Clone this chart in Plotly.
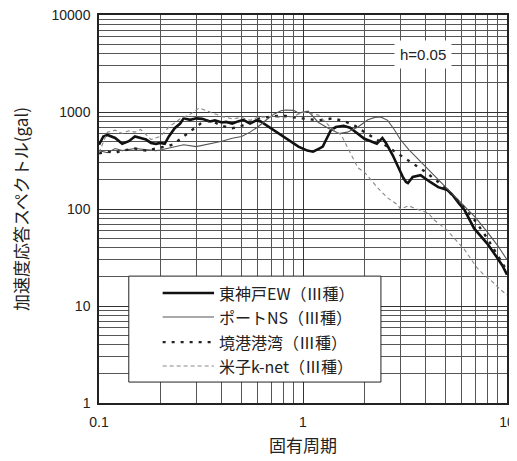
import plotly.graph_objects as go

# ---- data (period [s], spectral acceleration [gal]) ----
kobe_T = [0.10, 0.105, 0.11, 0.12, 0.13, 0.14, 0.15, 0.16, 0.17, 0.18, 0.19, 0.20, 0.21, 0.22, 0.235,
          0.25, 0.26, 0.28, 0.30, 0.32, 0.35, 0.37, 0.40, 0.42, 0.45, 0.48, 0.51, 0.55, 0.59, 0.62,
          0.68, 0.75, 0.80, 0.87, 0.95, 1.05, 1.12, 1.20, 1.25, 1.30, 1.37, 1.45, 1.58, 1.70, 1.85,
          2.00, 2.15, 2.30, 2.45, 2.55, 2.75, 2.92, 3.10, 3.20, 3.27, 3.45, 3.77, 4.20, 4.60, 5.10,
          5.40, 5.80, 6.20, 6.90, 7.50, 8.00, 8.90, 9.50, 10.0]
kobe_A = [460, 560, 580, 540, 470, 500, 560, 540, 520, 480, 470, 480, 470, 560, 680,
          760, 860, 830, 860, 850, 800, 820, 780, 790, 760, 800, 830, 760, 820, 800,
          700, 620, 560, 490, 440, 400, 390, 420, 440, 520, 650, 700, 720, 690, 600,
          530, 500, 470, 540, 480, 360, 271, 210, 190, 185, 214, 223, 190, 168, 157,
          140, 115, 97, 63, 52, 44, 32, 26, 21]

port_T = [0.10, 0.11, 0.12, 0.13, 0.15, 0.17, 0.19, 0.20, 0.23, 0.26, 0.30, 0.35, 0.40, 0.45,
          0.50, 0.55, 0.60, 0.66, 0.72, 0.78, 0.82, 0.90, 0.95, 1.06, 1.19, 1.33, 1.50, 1.65,
          1.86, 2.08, 2.25, 2.40, 2.60, 2.80, 3.00, 3.30, 3.60, 3.94, 4.50, 4.90, 5.90, 7.00,
          8.00, 9.00, 10.0]
port_A = [400, 380, 420, 400, 420, 410, 400, 405, 430, 460, 440, 470, 500, 537,
          560, 620, 700, 826, 950, 1030, 1050, 1040, 975, 1020, 780, 680, 600, 620,
          700, 830, 880, 890, 820, 660, 520, 410, 340, 284, 210, 177, 118, 82,
          58, 42, 30]

sakai_T = [0.10, 0.11, 0.12, 0.13, 0.15, 0.17, 0.20, 0.23, 0.26, 0.30, 0.33, 0.37, 0.40, 0.45,
           0.50, 0.55, 0.60, 0.70, 0.80, 0.90, 1.00, 1.20, 1.40, 1.60, 1.80, 2.00, 2.30, 2.60,
           3.00, 3.50, 4.00, 4.60, 5.20, 6.00, 7.00, 8.00, 9.00, 10.0]
sakai_A = [375, 390, 380, 400, 420, 400, 430, 460, 560, 700, 820, 780, 720, 680,
           720, 780, 850, 900, 920, 880, 860, 820, 860, 800, 720, 620, 520, 440,
           360, 290, 240, 190, 150, 110, 75, 50, 33, 23]

yonago_T = [0.10, 0.11, 0.12, 0.13, 0.14, 0.15, 0.16, 0.17, 0.18, 0.20, 0.22, 0.25, 0.28, 0.31,
            0.33, 0.36, 0.40, 0.45, 0.50, 0.55, 0.60, 0.70, 0.80, 0.90, 1.00, 1.10, 1.19, 1.38,
            1.54, 1.66, 1.86, 2.00, 2.33, 2.60, 2.92, 3.00, 3.30, 3.60, 4.10, 4.40, 5.10, 6.20,
            7.10, 7.70, 8.70, 9.20, 10.0]
yonago_A = [380, 620, 650, 600, 640, 620, 660, 580, 520, 560, 700, 850, 950, 1100,
            1050, 980, 900, 850, 880, 820, 880, 900, 870, 900, 1000, 960, 930, 680,
            580, 425, 265, 240, 164, 130, 110, 100, 108, 100, 91, 77, 60, 38,
            25, 21, 17, 15, 13]

names = ["東神戸EW（Ⅲ種）", "ポートNS（Ⅲ種）", "境港港湾（Ⅲ種）", "米子k-net（Ⅲ種）"]
x_ticks = [0.1, 1, 10]
x_ticktext = ["0.1", "1", "10"]
y_ticks = [1, 10, 100, 1000, 10000]
y_ticktext = ["1", "10", "100", "1000", "10000"]

styles = [
    dict(color="#111111", width=2.6),
    dict(color="#555555", width=1.1),
    dict(color="#222222", width=2.4, dash="3px,6px"),
    dict(color="#888888", width=1.1, dash="4px,3px"),
]
series = [(kobe_T, kobe_A), (port_T, port_A), (sakai_T, sakai_A), (yonago_T, yonago_A)]

fig = go.Figure()
for (t, a), nm, st in zip(series, names, styles):
    fig.add_trace(go.Scatter(x=t, y=a, mode="lines", name=nm, line=st, showlegend=False))

tickfont = dict(family="Liberation Sans, Arial, sans-serif", size=14, color="#222222")
cjk = "Noto Sans CJK JP, sans-serif"

fig.update_xaxes(type="log", range=[-1, 1], tickvals=x_ticks, ticktext=x_ticktext,
                 showline=True, mirror=True, linecolor="#222222", linewidth=1.5,
                 showgrid=True, gridcolor="#333333", gridwidth=1,
                 minor=dict(showgrid=True, gridcolor="#555555", gridwidth=1, dtick="D1"),
                 ticks="", tickfont=tickfont, ticklabelstandoff=5, ticklabeloverflow="allow",
                 title=dict(text="固有周期", font=dict(family=cjk, size=17, color="#222222"), standoff=12),
                 zeroline=False)
fig.update_yaxes(type="log", range=[0, 4], tickvals=y_ticks, ticktext=y_ticktext,
                 showline=True, mirror=True, linecolor="#222222", linewidth=1.5,
                 showgrid=True, gridcolor="#333333", gridwidth=1,
                 minor=dict(showgrid=True, gridcolor="#555555", gridwidth=1, dtick="D1"),
                 ticks="", tickfont=tickfont, ticklabelstandoff=4, ticklabeloverflow="allow",
                 title=dict(text="加速度応答スペクトル(gal)", font=dict(family=cjk, size=17, color="#222222"), standoff=25),
                 zeroline=False)

fig.add_annotation(xref="paper", yref="paper", x=0.793, y=0.897, xanchor="center", yanchor="middle",
                   text="h=0.05", showarrow=False,
                   font=dict(family="Liberation Sans, Arial, sans-serif", size=15, color="#222222"),
                   bgcolor="white", borderpad=5)

# ---- legend box (drawn as shapes + text) ----
shapes = [dict(type="rect", xref="paper", yref="paper", x0=0.073, x1=0.691, y0=0.054, y1=0.327,
               fillcolor="white", line=dict(color="#222222", width=1), layer="above")]
row_y = [0.2835, 0.2216, 0.157, 0.0954]
for ry, nm, st in zip(row_y, names, styles):
    shapes.append(dict(type="line", xref="paper", yref="paper", x0=0.156, x1=0.282, y0=ry, y1=ry,
                       line=dict(color=st["color"], width=st["width"], dash=st.get("dash", "solid")),
                       layer="above"))
    fig.add_annotation(xref="paper", yref="paper", x=0.289, y=ry, xanchor="left", yanchor="middle",
                       text=nm, showarrow=False, font=dict(family=cjk, size=16, color="#222222"))

fig.update_layout(
    width=509, height=453,
    margin=dict(l=91, r=10, t=7, b=58, autoexpand=False),
    paper_bgcolor="white", plot_bgcolor="white",
    showlegend=False,
    shapes=shapes,
)

fig.write_html("out.html")
